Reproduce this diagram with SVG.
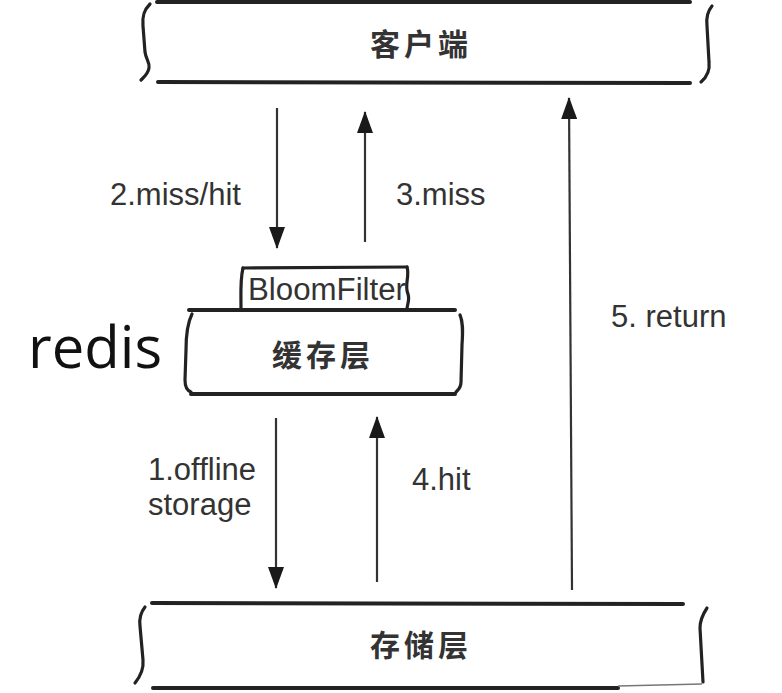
<svg xmlns="http://www.w3.org/2000/svg" width="782" height="693" viewBox="0 0 782 693">
<defs>
<marker id="ah" markerUnits="userSpaceOnUse" markerWidth="22" markerHeight="16" viewBox="0 0 22 16" refX="21" refY="8" orient="auto">
<path d="M0,0 L22,8 L0,16 Z" fill="#1a1a1a"/>
</marker>
<style>
.edge{stroke:#333;stroke-width:2.2;fill:none}
.line{stroke:#222;stroke-width:4;fill:none;stroke-linecap:round}
.br{stroke:#222;stroke-width:3.2;fill:none;stroke-linecap:round}
.lbl{font-family:"Liberation Sans",Arial,sans-serif;font-size:31px;fill:#333}
.cjk{font-family:"Noto Sans CJK SC",sans-serif;font-size:30px;font-weight:bold;fill:#333;letter-spacing:4px}
</style>
</defs>
<rect width="782" height="693" fill="#ffffff"/>

<g id="client">
<line class="line" x1="157" y1="2" x2="690" y2="2"/>
<line class="line" x1="158" y1="82" x2="690" y2="83"/>
<path class="br" d="M150,4 C144,10 142,16 143,26 L145,52 C146,60 150,62 149,68 C148,74 144,77 141,80"/>
<path class="br" d="M712,6 C707,12 706,18 707,26 L709,62 C710,70 708,76 701,82"/>
<text class="cjk" x="421" y="55" text-anchor="middle">客户端</text>
</g>

<g id="bloomfilter">
<path class="br" d="M243,268 L407,267" stroke-width="2.5"/>
<path class="br" d="M243,268 C240,280 241,295 241,309" stroke-width="2.5"/>
<path class="br" d="M407,267 C410,276 404,285 408,294 C410,300 407,305 407,309" stroke-width="2.5"/>
<text class="lbl" x="248" y="300" font-size="29" textLength="158" lengthAdjust="spacingAndGlyphs">BloomFilter</text>
</g>

<g id="cache">
<line class="line" x1="189" y1="310" x2="455" y2="310"/>
<line class="line" x1="191" y1="394" x2="455" y2="394"/>
<path class="br" d="M192,314 C188,322 186,335 186,350 L185,380 C185,387 188,391 191,392"/>
<path class="br" d="M460,315 C463,322 463,330 462,345 L461,382 C461,388 458,390 456,392"/>
<text class="cjk" x="323" y="366" text-anchor="middle">缓存层</text>
</g>

<g id="storage">
<line class="line" x1="152" y1="603" x2="683" y2="604"/>
<line class="line" x1="153" y1="688" x2="618" y2="688"/>
<line x1="618" y1="686" x2="702" y2="684" stroke="#777" stroke-width="1.5"/>
<path class="br" d="M145,607 C141,612 139,618 140,626 L143,660 C144,670 139,678 135,683"/>
<path class="br" d="M707,608 C703,614 700,620 700,628 L703,682"/>
<text class="cjk" x="421" y="656" text-anchor="middle">存储层</text>
</g>

<g id="redis-label">
<text x="28" y="368" font-family="'Open Sans',sans-serif" font-size="58" fill="#111">redis</text>
</g>

<g id="connectors">
<line class="edge" x1="277" y1="108" x2="277" y2="248" marker-end="url(#ah)"/>
<line class="edge" x1="365" y1="242" x2="365" y2="112" marker-end="url(#ah)"/>
<line class="edge" x1="276" y1="418" x2="276" y2="588" marker-end="url(#ah)"/>
<line class="edge" x1="377" y1="582" x2="377" y2="417" marker-end="url(#ah)"/>
<line class="edge" x1="572" y1="590" x2="569" y2="98" marker-end="url(#ah)"/>
<text class="lbl" x="110" y="205">2.miss/hit</text>
<text class="lbl" x="396" y="205">3.miss</text>
<text class="lbl" x="148" y="480">1.offline</text>
<text class="lbl" x="148" y="515">storage</text>
<text class="lbl" x="412" y="490">4.hit</text>
<text class="lbl" x="611" y="327">5. return</text>
</g>
</svg>
